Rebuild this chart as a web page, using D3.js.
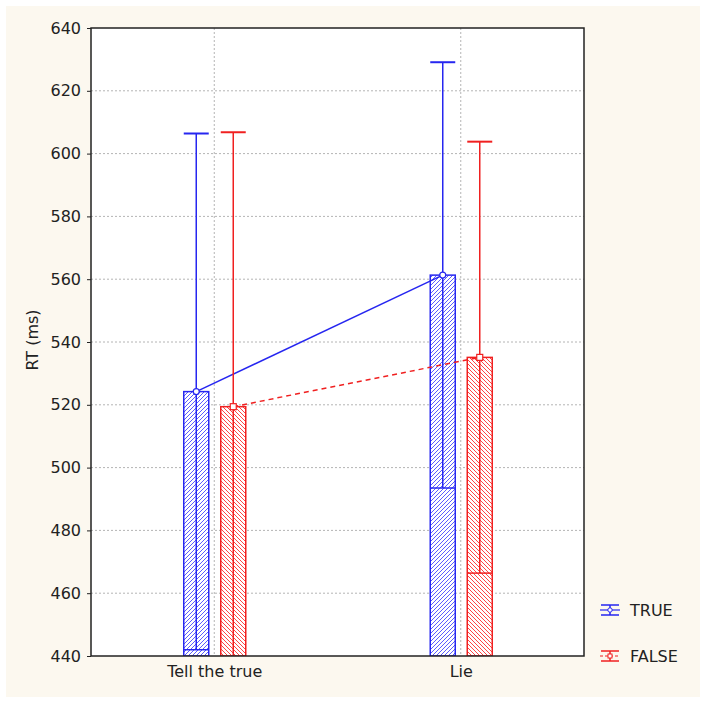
<!DOCTYPE html>
<html><head><meta charset="utf-8">
<script src="https://cdn.jsdelivr.net/npm/d3@7"></script>
<style>body{margin:0;background:#fff}svg text{font-family:"DejaVu Sans",Verdana,sans-serif}</style>
</head><body><svg id="c" width="706" height="705"></svg>
<script>
const categories = ["Tell the true", "Lie"];
const seriesNames = ["TRUE", "FALSE"];
const meansTrue = [524.2, 561.3];
const meansFalse = [519.4, 535.1];
const upperTrue = [606.4, 629.1];
const upperFalse = [606.8, 603.8];
const yTicks = [440, 460, 480, 500, 520, 540, 560, 580, 600, 620, 640];

const colors = {TRUE: "#2626f0", FALSE: "#f02020"};
const FONT = "DejaVu Sans, Verdana, sans-serif";
const svg = d3.select("#c");
const M = {l: 91, r: 584, t: 28, b: 656};

svg.append("rect").attr("x", 6).attr("y", 6).attr("width", 694).attr("height", 691).attr("fill", "#fcf8ef");
svg.append("rect").attr("x", M.l).attr("y", M.t).attr("width", M.r - M.l).attr("height", M.b - M.t).attr("fill", "#fff");

const x = d3.scalePoint().domain(categories).range([M.l, M.r]).padding(0.5);
const y = d3.scaleLinear().domain([440, 640]).range([M.b, M.t]);

const defs = svg.append("defs");
function hatch(id, color, dir) {
  const p = defs.append("pattern").attr("id", id).attr("patternUnits", "userSpaceOnUse")
    .attr("width", 4).attr("height", 4);
  p.append("rect").attr("width", 4).attr("height", 4).attr("fill", "#fff");
  p.append("path")
    .attr("d", dir > 0 ? "M-1,1 L1,-1 M0,4 L4,0 M3,5 L5,3" : "M-1,3 L1,5 M0,0 L4,4 M3,-1 L5,1")
    .attr("stroke", color).attr("stroke-width", 0.9).attr("fill", "none");
}
hatch("hT", "#4a4aff", 1);
hatch("hF", "#ff3030", -1);

const g = svg.append("g");
g.selectAll(".hg").data(yTicks.filter(t => t > 440 && t < 640)).join("line")
  .attr("x1", M.l).attr("x2", M.r).attr("y1", d => y(d)).attr("y2", d => y(d))
  .attr("stroke", "#b4b4b4").attr("stroke-dasharray", "2,2");
g.selectAll(".vg").data(categories).join("line")
  .attr("x1", d => x(d)).attr("x2", d => x(d)).attr("y1", M.t).attr("y2", M.b)
  .attr("stroke", "#b4b4b4").attr("stroke-dasharray", "2,2");

const series = [
  {name: "TRUE", means: meansTrue, upper: upperTrue, off: -18, fill: "url(#hT)"},
  {name: "FALSE", means: meansFalse, upper: upperFalse, off: 19, fill: "url(#hF)"}
];
const bw = 25;
defs.append("clipPath").attr("id", "pc").append("rect").attr("x", M.l).attr("y", M.t).attr("width", M.r - M.l).attr("height", M.b - M.t);
const pg = svg.append("g").attr("clip-path", "url(#pc)");

series.forEach(s => {
  const col = colors[s.name];
  const cx = i => x(categories[i]) + s.off;
  categories.forEach((c, i) => {
    const m = s.means[i], u = s.upper[i], lo = m - (u - m);
    const xc = cx(i);
    pg.append("rect").attr("x", xc - bw / 2).attr("y", y(m)).attr("width", bw).attr("height", y(440) - y(m))
      .attr("fill", s.fill).attr("stroke", col).attr("stroke-width", 1.5);
    pg.append("line").attr("x1", xc).attr("x2", xc).attr("y1", y(m)).attr("y2", y(lo)).attr("stroke", col).attr("stroke-width", 1.5);
    pg.append("line").attr("x1", xc - bw / 2).attr("x2", xc + bw / 2).attr("y1", y(lo)).attr("y2", y(lo)).attr("stroke", col).attr("stroke-width", 1.5);
    pg.append("line").attr("x1", xc).attr("x2", xc).attr("y1", y(m)).attr("y2", y(u)).attr("stroke", col).attr("stroke-width", 1.5);
    pg.append("line").attr("x1", xc - bw / 2).attr("x2", xc + bw / 2).attr("y1", y(u)).attr("y2", y(u)).attr("stroke", col).attr("stroke-width", 2);
  });
  const line = d3.line().x((d, i) => cx(i)).y(d => y(d));
  pg.append("path").attr("d", line(s.means)).attr("fill", "none").attr("stroke", col).attr("stroke-width", 1.5)
    .attr("stroke-dasharray", s.name === "FALSE" ? "5,4" : null);
  s.means.forEach((m, i) => {
    if (s.name === "TRUE")
      pg.append("circle").attr("cx", cx(i)).attr("cy", y(m)).attr("r", 3).attr("fill", "#fff").attr("stroke", col).attr("stroke-width", 1.2);
    else
      pg.append("rect").attr("x", cx(i) - 3).attr("y", y(m) - 3).attr("width", 6).attr("height", 6).attr("fill", "#fff").attr("stroke", col).attr("stroke-width", 1.2);
  });
});

svg.append("rect").attr("x", M.l).attr("y", M.t).attr("width", M.r - M.l).attr("height", M.b - M.t)
  .attr("fill", "none").attr("stroke", "#222").attr("stroke-width", 1.5);

const ya = svg.append("g").attr("transform", `translate(${M.l},0)`)
  .call(d3.axisLeft(y).tickValues(yTicks).tickSize(4).tickPadding(6).tickFormat(d3.format("d")));
ya.select(".domain").remove();
ya.selectAll("line").attr("stroke", "#222");
ya.selectAll("text").attr("font-size", 16).attr("fill", "#222").attr("font-family", FONT);

const xa = svg.append("g").attr("transform", `translate(0,${M.b})`)
  .call(d3.axisBottom(x).tickSize(0).tickPadding(10));
xa.select(".domain").remove();
xa.selectAll("text").attr("font-size", 16).attr("fill", "#222").attr("font-family", FONT);

svg.append("text").attr("transform", `translate(38,${(M.t + M.b) / 2 - 2}) rotate(-90)`)
  .attr("text-anchor", "middle").attr("font-size", 16).attr("fill", "#222").attr("font-family", FONT).text("RT (ms)");

const lg = svg.append("g");
seriesNames.forEach((n, i) => {
  const col = colors[n];
  const ly = 610 + i * 46;
  const lx = 610;
  lg.append("line").attr("x1", lx - 9).attr("x2", lx + 9).attr("y1", ly - 5).attr("y2", ly - 5).attr("stroke", col).attr("stroke-width", 1.5);
  lg.append("line").attr("x1", lx - 9).attr("x2", lx + 9).attr("y1", ly + 5).attr("y2", ly + 5).attr("stroke", col).attr("stroke-width", 1.5);
  lg.append("line").attr("x1", lx).attr("x2", lx).attr("y1", ly - 5).attr("y2", ly + 5).attr("stroke", col).attr("stroke-width", 1.5);
  lg.append("line").attr("x1", lx - 10).attr("x2", lx + 10).attr("y1", ly).attr("y2", ly).attr("stroke", col).attr("stroke-width", 1.2)
    .attr("stroke-dasharray", n === "FALSE" ? "3,2" : null);
  if (n === "TRUE") lg.append("circle").attr("cx", lx).attr("cy", ly).attr("r", 2.2).attr("fill", "#fff").attr("stroke", col);
  else lg.append("rect").attr("x", lx - 2).attr("y", ly - 2).attr("width", 4).attr("height", 4).attr("fill", "#fff").attr("stroke", col);
  lg.append("text").attr("x", 630).attr("y", ly + 6).attr("font-size", 16).attr("fill", "#222").attr("font-family", FONT).text(n);
});
</script></body></html>
